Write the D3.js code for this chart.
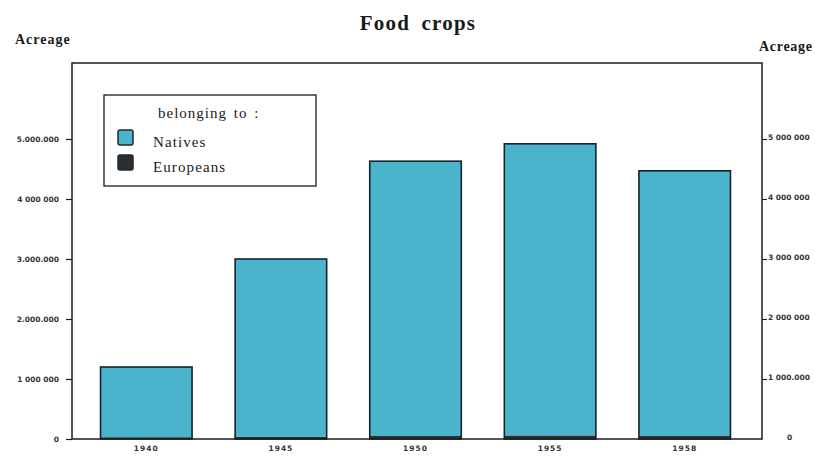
<!DOCTYPE html>
<html>
<head>
<meta charset="utf-8">
<script src="https://cdn.jsdelivr.net/npm/d3@7"></script>
<style>
  html, body { margin: 0; padding: 0; background: #ffffff; }
  svg { display: block; }
</style>
</head>
<body>
<svg id="chart" width="815" height="458"></svg>
<script>
// ---- data ----
const years = ["1940", "1945", "1950", "1955", "1958"];
const natives = [1170000, 2960000, 4580000, 4860000, 4420000];
const europeans = [30000, 40000, 50000, 60000, 50000];
const leftTickValues = [0, 1000000, 2000000, 3000000, 4000000, 5000000];
const leftTickLabels = ["0", "1 000 000", "2.000.000", "3.000.000", "4 000 000", "5.000.000"];
const rightTickLabels = ["0", "1 000.000", "2 000 000", "3 000 000", "4 000 000", "5 000 000"];
const seriesNames = ["Natives", "Europeans"];
const titleText = "Food crops";
const axisTitle = "Acreage";
const legendTitle = "belonging to :";

// ---- layout ----
const frame = { left: 72, top: 63, right: 762, bottom: 439 };
const colors = { Natives: "#4ab4cd", Europeans: "#2c2f31" };
const ink = "#1e1e1e";

const svg = d3.select("#chart");

const x = d3.scaleBand()
  .domain(years)
  .range([79, 752])
  .paddingInner(0.32)
  .paddingOuter(0.16);

const y = d3.scaleLinear()
  .domain([0, 6266667])
  .range([frame.bottom, frame.top]);

// stacked data
const rows = years.map((yr, i) => ({ year: yr, Europeans: europeans[i], Natives: natives[i] }));
const stack = d3.stack().keys(["Europeans", "Natives"])(rows);

// bars
const g = svg.append("g");
stack.forEach(layer => {
  g.selectAll(null)
    .data(layer)
    .enter()
    .append("rect")
    .attr("x", d => x(d.data.year))
    .attr("width", x.bandwidth())
    .attr("y", d => y(d[1]))
    .attr("height", d => y(d[0]) - y(d[1]))
    .attr("fill", colors[layer.key]);
});
// bar outlines
g.selectAll(null)
  .data(rows)
  .enter()
  .append("rect")
  .attr("x", d => x(d.year))
  .attr("width", x.bandwidth())
  .attr("y", d => y(d.Natives + d.Europeans))
  .attr("height", d => y(0) - y(d.Natives + d.Europeans))
  .attr("fill", "none")
  .attr("stroke", "#16222b")
  .attr("stroke-width", 1.6);

// frame
svg.append("rect")
  .attr("x", frame.left)
  .attr("y", frame.top)
  .attr("width", frame.right - frame.left)
  .attr("height", frame.bottom - frame.top)
  .attr("fill", "none")
  .attr("stroke", ink)
  .attr("stroke-width", 1.5);

// left axis
const leftAxis = d3.axisLeft(y)
  .tickValues(leftTickValues)
  .tickSize(6)
  .tickPadding(7)
  .tickFormat((d, i) => leftTickLabels[i]);
const la = svg.append("g")
  .attr("transform", `translate(${frame.left},0)`)
  .call(leftAxis);
la.select(".domain").remove();
la.selectAll(".tick line").attr("stroke", ink).attr("stroke-width", 1.2);
la.selectAll(".tick text")
  .attr("fill", "#333")
  .style("font-family", "'DejaVu Sans', sans-serif")
  .style("font-weight", "bold")
  .style("font-size", "7.5px");

// right axis
const rightAxis = d3.axisRight(y)
  .tickValues(leftTickValues)
  .tickSize(5)
  .tickPadding(1)
  .tickFormat((d, i) => rightTickLabels[i]);
const ra = svg.append("g")
  .attr("transform", `translate(${frame.right},0)`)
  .call(rightAxis);
ra.select(".domain").remove();
ra.selectAll(".tick line").attr("stroke", ink).attr("stroke-width", 1.1)
  .attr("display", d => d === 0 ? "none" : null);
ra.selectAll(".tick text")
  .attr("fill", "#333")
  .attr("dy", "0.1em")
  .attr("x", d => d === 0 ? 25 : 6)
  .style("font-family", "'DejaVu Sans', sans-serif")
  .style("font-weight", "bold")
  .style("font-size", "7.5px");

// x labels
const xa = svg.append("g")
  .attr("transform", `translate(0,${frame.bottom})`)
  .call(d3.axisBottom(x).tickSize(0).tickPadding(7));
xa.select(".domain").remove();
xa.selectAll(".tick text")
  .attr("fill", "#333")
  .style("font-family", "'DejaVu Sans', sans-serif")
  .style("font-weight", "bold")
  .style("font-size", "7.5px")
  .style("letter-spacing", "1px");

// titles
svg.append("text")
  .attr("x", 418)
  .attr("y", 30)
  .attr("text-anchor", "middle")
  .attr("fill", "#1a1a1a")
  .style("font-family", "'Liberation Serif', 'DejaVu Serif', serif")
  .style("font-weight", "bold")
  .style("font-size", "21px")
  .style("letter-spacing", "1.2px")
  .style("word-spacing", "5px")
  .text(titleText);

svg.append("text")
  .attr("x", 15)
  .attr("y", 44)
  .attr("fill", "#1a1a1a")
  .style("font-family", "'Liberation Serif', 'DejaVu Serif', serif")
  .style("font-weight", "bold")
  .style("font-size", "14px")
  .style("letter-spacing", "1px")
  .text(axisTitle);

svg.append("text")
  .attr("x", 759)
  .attr("y", 51)
  .attr("fill", "#1a1a1a")
  .style("font-family", "'Liberation Serif', 'DejaVu Serif', serif")
  .style("font-weight", "bold")
  .style("font-size", "14px")
  .style("letter-spacing", "0.7px")
  .text(axisTitle);

// legend
const lg = svg.append("g");
lg.append("rect")
  .attr("x", 104).attr("y", 95)
  .attr("width", 212).attr("height", 91)
  .attr("fill", "#ffffff")
  .attr("stroke", ink)
  .attr("stroke-width", 1.3);
lg.append("text")
  .attr("x", 158).attr("y", 118)
  .attr("fill", "#1a1a1a")
  .style("font-family", "'Liberation Serif', 'DejaVu Serif', serif")
  .style("font-size", "15px")
  .style("letter-spacing", "1px")
  .style("word-spacing", "2px")
  .text(legendTitle);
const items = lg.selectAll("g.item")
  .data(seriesNames)
  .enter()
  .append("g")
  .attr("class", "item")
  .attr("transform", (d, i) => `translate(0,${i * 25})`);
items.append("rect")
  .attr("x", 118).attr("y", 130)
  .attr("width", 15).attr("height", 15)
  .attr("rx", 2)
  .attr("fill", d => colors[d])
  .attr("stroke", "#1e2a30")
  .attr("stroke-width", 1.5);
items.append("text")
  .attr("x", 153).attr("y", 147)
  .attr("fill", "#1a1a1a")
  .style("font-family", "'Liberation Serif', 'DejaVu Serif', serif")
  .style("font-size", "15px")
  .style("letter-spacing", "1.1px")
  .text(d => d);
</script>
</body>
</html>
